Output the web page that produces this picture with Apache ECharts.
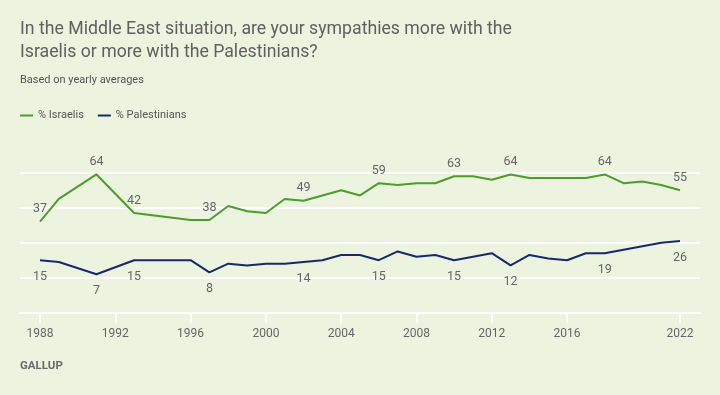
<!DOCTYPE html>
<html>
<head>
<meta charset="utf-8">
<script src="https://cdn.jsdelivr.net/npm/echarts@6/dist/echarts.min.js"></script>
<style>
html,body{margin:0;padding:0;background:#ecf3df;}
#chart{width:720px;height:395px;}
</style>
</head>
<body>
<div id="chart"></div>
<script>
const years        = [1988,1989,1991,1993,1996,1997,1998,1999,2000,2001,2002,2003,2004,2005,2006,2007,2008,2009,2010,2011,2012,2013,2014,2015,2016,2017,2018,2019,2020,2021,2022];
const israelis     = [37,  50,  64,  42,  38,  38,  46,  43,  42,  50,  49,  52,  55,  52,  59,  58,  59,  59,  63,  63,  61,  64,  62,  62,  62,  62,  64,  59,  60,  58,  55];
const palestinians = [15,  14,  7,   15,  15,  8,   13,  12,  13,  13,  14,  15,  18,  18,  15,  20,  17,  18,  15,  17,  19,  12,  18,  16,  15,  19,  19,  21,  23,  25,  26];
const labeledYears = [1988,1991,1993,1997,2002,2006,2010,2013,2018,2022];
const tickYears    = [1988,1992,1996,2000,2004,2008,2012,2016,2022];
const gridValues   = [0,20,40,60,80];

const FONT = 'Roboto';
const TXT = '#666666';

function buildData(vals, pos, dist) {
  return years.map((y, i) => ({
    value: [y, vals[i]],
    label: labeledYears.includes(y) ? {show: true, position: pos, distance: dist} : {show: false}
  }));
}

const chart = echarts.init(document.getElementById('chart'), null, {renderer: 'canvas'});
chart.setOption({
  backgroundColor: '#ecf3df',
  animation: false,
  textStyle: {fontFamily: FONT},
  title: [
    {text: 'In the Middle East situation, are your sympathies more with the\nIsraelis or more with the Palestinians?',
     left: 20, top: 18, padding: 0, textStyle: {fontFamily: FONT, fontSize: 17.7, fontWeight: 'normal', lineHeight: 23, color: '#606060'}},
    {text: 'Based on yearly averages', left: 20, top: 75, padding: 0,
     textStyle: {fontFamily: FONT, fontSize: 11, fontWeight: 'normal', color: '#555555'}},
    {text: 'GALLUP', left: 20, top: 360, padding: 0,
     textStyle: {fontFamily: FONT, fontSize: 11.5, fontWeight: 'bold', color: '#6a6a6a'}}
  ],
  legend: {
    left: 20, top: 110, padding: 0, icon: 'rect', itemWidth: 13, itemHeight: 2, itemGap: 14,
    textStyle: {fontFamily: FONT, fontSize: 11, color: '#555555'},
    data: ['% Israelis', '% Palestinians']
  },
  grid: {left: 20, right: 20, top: 172.7, bottom: 82.3},
  xAxis: {
    type: 'value', min: 1986.937, max: 2023.063,
    splitLine: {show: false},
    axisLine: {show: true, onZero: false, lineStyle: {color: '#ffffff', width: 2}},
    axisTick: {show: true, customValues: tickYears, length: 10, lineStyle: {color: '#ffffff', width: 2}},
    axisLabel: {customValues: tickYears, margin: 15, fontFamily: FONT, fontSize: 12, color: TXT, formatter: v => String(v)}
  },
  yAxis: [
    {type: 'value', min: -15, max: 65, show: false, splitLine: {show: false}},
    {type: 'value', min: gridValues[0], max: gridValues[gridValues.length-1], interval: 20,
     axisLabel: {show: false}, axisLine: {show: false}, axisTick: {show: false},
     splitLine: {show: true, lineStyle: {color: '#ffffff', width: 2}}}
  ],
  series: [
    {name: '% Israelis', type: 'line', yAxisIndex: 0, data: buildData(israelis, 'top', 6),
     symbol: 'circle', symbolSize: 0, showSymbol: true, lineStyle: {color: '#4e9c2d', width: 2}, itemStyle: {color: '#4e9c2d'},
     label: {fontFamily: FONT, fontSize: 12.5, color: TXT}, z: 3},
    {name: '% Palestinians', type: 'line', yAxisIndex: 0, data: buildData(palestinians, 'bottom', 10),
     symbol: 'circle', symbolSize: 0, showSymbol: true, lineStyle: {color: '#162a6b', width: 2}, itemStyle: {color: '#162a6b'},
     label: {fontFamily: FONT, fontSize: 12.5, color: TXT}, z: 3},
    {type: 'line', yAxisIndex: 1, data: [], silent: true}
  ]
});
</script>
</body>
</html>
